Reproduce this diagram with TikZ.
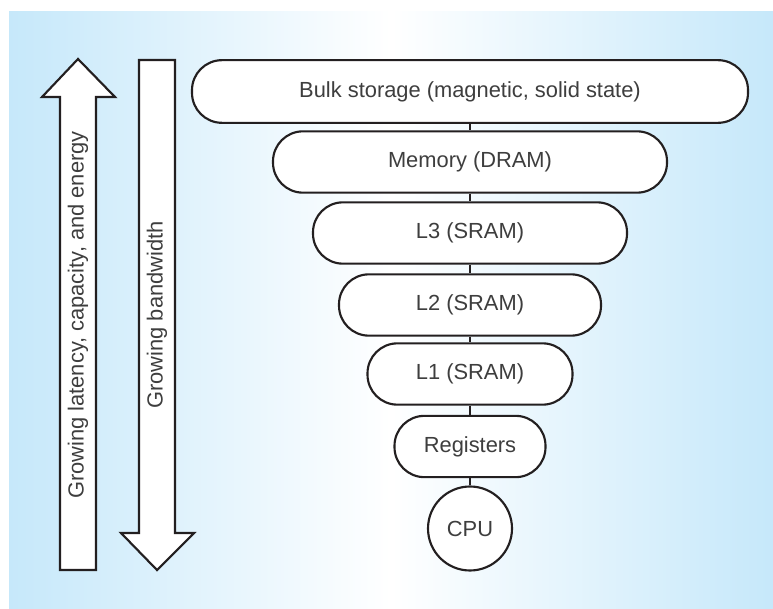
\documentclass[tikz,border=0pt]{standalone}
\usepackage{fontspec}
\setmainfont{Liberation Sans}
\usetikzlibrary{shapes.geometric}
\definecolor{skyblue}{RGB}{198,232,250}
\definecolor{inkline}{RGB}{35,31,32}
\definecolor{inktext}{RGB}{62,62,62}
\tikzset{
  level/.style={draw=inkline,fill=white,line width=1.6pt,rounded corners=22.5pt,
    minimum height=46pt,text=inktext,font=\fontsize{16.4}{19}\selectfont},
  cpubox/.style={draw=inkline,fill=white,line width=1.6pt,circle,minimum size=63pt,
    inner sep=0pt,text=inktext,font=\fontsize{16.4}{19}\selectfont},
  link/.style={draw=inkline,line width=1.6pt},
  bigarrow/.style={draw=inkline,fill=white,line width=1.6pt,line join=miter},
  arrowtext/.style={rotate=90,text=inktext,font=\fontsize{16.4}{19}\selectfont}
}

\begin{document}
\begin{tikzpicture}[x=0.75pt,y=-0.75pt]
    \useasboundingbox (0,0) rectangle (773,609);
    \shade[left color=skyblue,right color=skyblue,middle color=white] (9,12) rectangle (773,609);
    \draw[bigarrow] (60,570)--(96,570)--(96,97)--(115,97)--(78,59)--(42,97)--(60,97)--cycle;
    \draw[bigarrow] (139,60)--(175,60)--(175,533)--(194,533)--(157,570)--(121,533)--(139,533)--cycle;
    \node[arrowtext] (latency) at (78,315) {Growing latency, capacity, and energy};
    \node[arrowtext] (bandwidth) at (157,315) {Growing bandwidth};
    \node[level,minimum width=417pt,minimum height=47pt] (bulk) at (470,91.5) {Bulk storage (magnetic, solid state)};
    \node[level,minimum width=295.5pt] (mem) at (470,162) {Memory (DRAM)};
    \node[level,minimum width=235.5pt] (lthree) at (470,233) {L3 (SRAM)};
    \node[level,minimum width=196.5pt] (ltwo) at (470,305) {L2 (SRAM)};
    \node[level,minimum width=153.75pt] (lone) at (470,374) {L1 (SRAM)};
    \node[level,minimum width=113.25pt] (regs) at (470,446.5) {Registers};
    \node[cpubox] (cpu) at (470,528.5) {CPU};
    \draw[link] (bulk)--(mem); \draw[link] (mem)--(lthree);
    \draw[link] (lthree)--(ltwo); \draw[link] (ltwo)--(lone);
    \draw[link] (lone)--(regs); \draw[link] (regs)--(cpu);
  \end{tikzpicture}
\end{document}
